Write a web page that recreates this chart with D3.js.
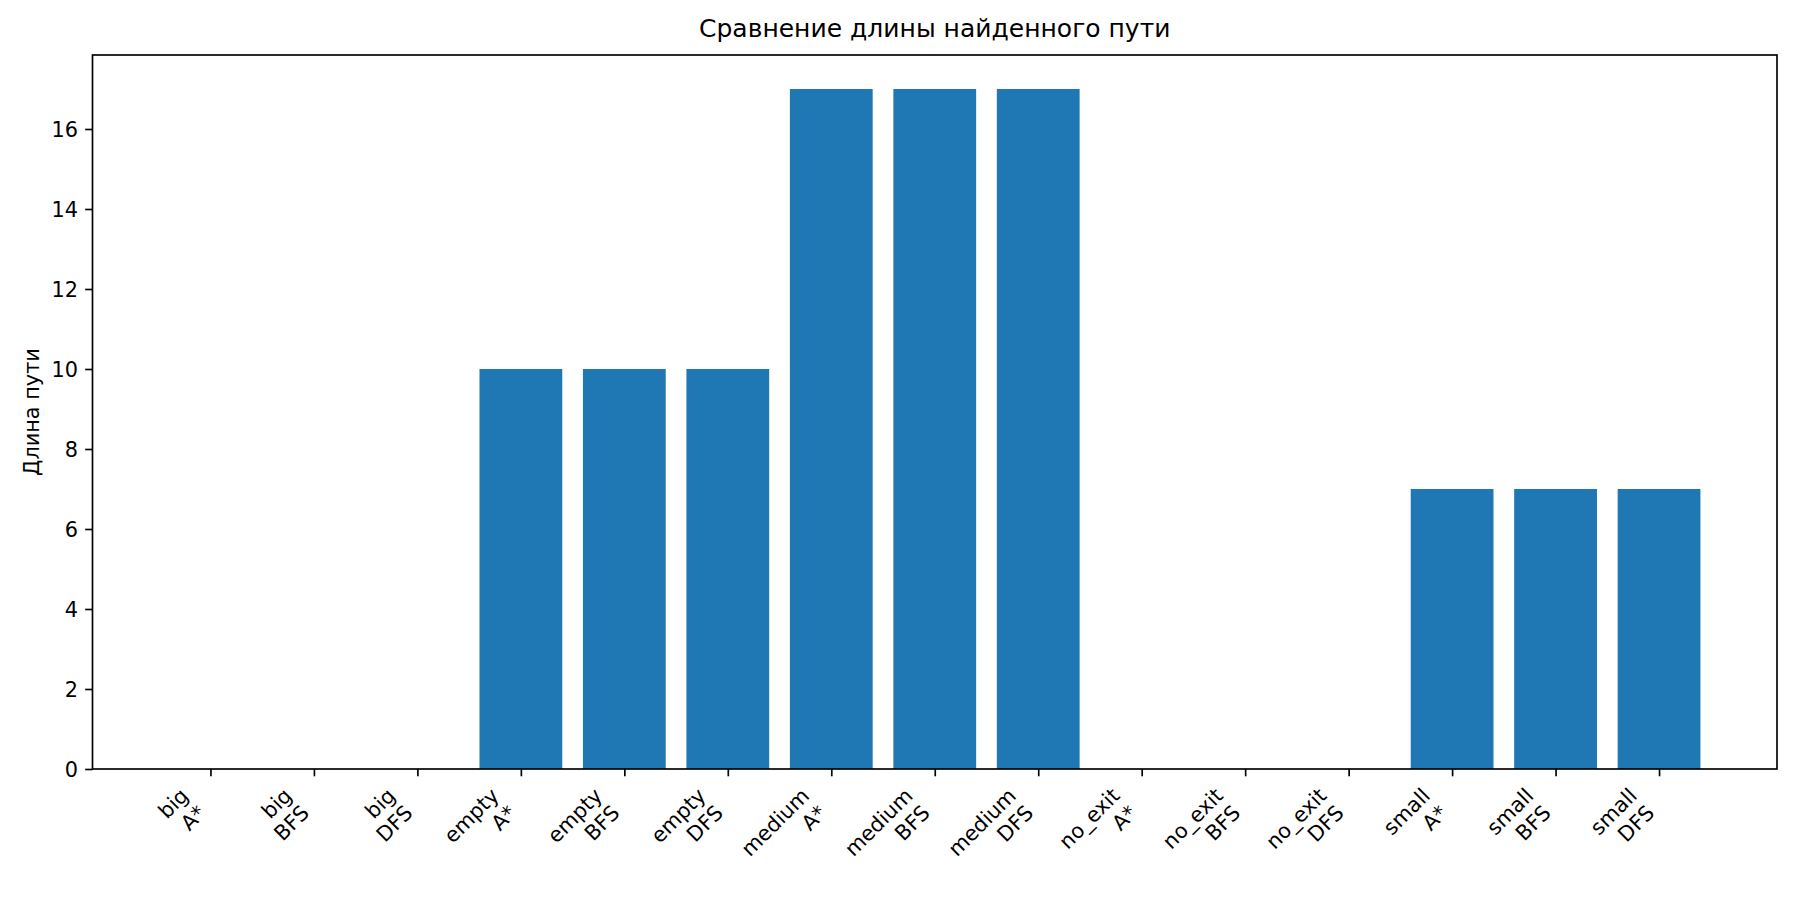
<!DOCTYPE html>
<html>
<head>
<meta charset="utf-8">
<script src="https://cdn.jsdelivr.net/npm/d3@7"></script>
<style>
  html, body { margin: 0; padding: 0; background: #fff; }
  svg { display: block; font-family: "DejaVu Sans", sans-serif; }
</style>
</head>
<body>
<svg id="chart" width="1800" height="900"></svg>
<script>
// ---- data ----
const mazes = ["big", "big", "big", "empty", "empty", "empty", "medium", "medium", "medium", "no_exit", "no_exit", "no_exit", "small", "small", "small"];
const algorithms = ["A*", "BFS", "DFS", "A*", "BFS", "DFS", "A*", "BFS", "DFS", "A*", "BFS", "DFS", "A*", "BFS", "DFS"];
const pathLengths = [0, 0, 0, 10, 10, 10, 17, 17, 17, 0, 0, 0, 7, 7, 7];
const yTicks = [0, 2, 4, 6, 8, 10, 12, 14, 16];
const titleText = "Сравнение длины найденного пути";
const yLabelText = "Длина пути";

// ---- layout ----
const svg = d3.select("#chart");
const mLeft = 92.5, mRight = 1777, mTop = 55, mBottom = 769;
const fs = 20.83;
const tickLen = 7.3, tickPad = 7.3;
const n = pathLengths.length;
const barW = 0.8;
const span = (n - 1) + barW;
const xMin = -barW / 2 - 0.05 * span, xMax = (n - 1) + barW / 2 + 0.05 * span;

const x = d3.scaleLinear().domain([xMin, xMax]).range([mLeft, mRight]);
const y = d3.scaleLinear().domain([0, d3.max(pathLengths) * 1.05]).range([mBottom, mTop]);

// bars
svg.append("g").selectAll("rect").data(pathLengths).join("rect")
  .attr("x", (d, i) => x(i - barW / 2))
  .attr("width", (d, i) => x(i + barW / 2) - x(i - barW / 2))
  .attr("y", d => y(d))
  .attr("height", d => y(0) - y(d))
  .attr("fill", "#1f77b4");

// y axis
const yAxis = d3.axisLeft(y).tickValues(yTicks).tickSize(tickLen).tickPadding(tickPad).tickFormat(d3.format("d"));
const gy = svg.append("g").attr("transform", `translate(${mLeft},0)`).call(yAxis);
gy.select(".domain").remove();
gy.selectAll("line").attr("stroke", "#000").attr("stroke-width", 1.67);
gy.selectAll("text").attr("font-size", fs).attr("font-family", "DejaVu Sans").attr("fill", "#000").attr("dy", "0.34em");

// x axis ticks
const xAxis = d3.axisBottom(x).tickValues(d3.range(n)).tickSize(tickLen).tickFormat("");
const gx = svg.append("g").attr("transform", `translate(0,${mBottom})`).call(xAxis);
gx.select(".domain").remove();
gx.selectAll("line").attr("stroke", "#000").attr("stroke-width", 1.67);

// rotated two-line x tick labels (matplotlib rotation=45, ha='right')
const labelTop = mBottom + tickLen + tickPad;
const lineH = fs * 1.17;
const s2 = Math.SQRT1_2;
d3.range(n).forEach(i => {
  const g = svg.append("g");
  const t = g.append("text")
    .attr("font-size", fs)
    .attr("text-anchor", "end")
    .attr("fill", "#000");
  t.append("tspan").attr("x", 0).attr("y", 0).text(mazes[i]);
  t.append("tspan").attr("x", 0).attr("y", lineH).text(algorithms[i]);
  const bb = t.node().getBBox();
  const maxX = (bb.x + bb.width + bb.y + bb.height) * s2;
  const minY = (-(bb.x + bb.width) + bb.y) * s2;
  const tx = x(i) - maxX;
  const ty = labelTop - minY;
  g.attr("transform", `translate(${tx},${ty}) rotate(-45)`);
});

// frame
svg.append("rect")
  .attr("x", mLeft).attr("y", mTop)
  .attr("width", mRight - mLeft).attr("height", mBottom - mTop)
  .attr("fill", "none").attr("stroke", "#000").attr("stroke-width", 1.67);

// title
svg.append("text")
  .attr("x", (mLeft + mRight) / 2).attr("y", 37)
  .attr("text-anchor", "middle")
  .attr("font-size", 25)
  .attr("fill", "#000")
  .text(titleText);

// y label
svg.append("text")
  .attr("transform", `translate(39,${(mTop + mBottom) / 2}) rotate(-90)`)
  .attr("text-anchor", "middle")
  .attr("font-size", fs)
  .attr("fill", "#000")
  .text(yLabelText);
</script>
</body>
</html>
